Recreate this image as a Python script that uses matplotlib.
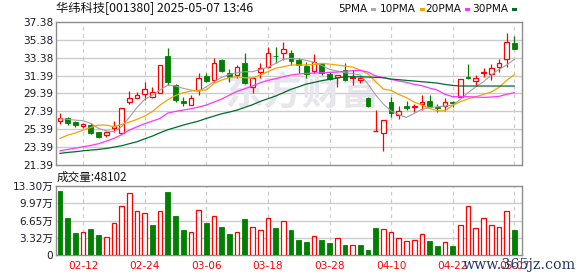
import matplotlib
matplotlib.use("Agg")
import matplotlib.pyplot as plt
from matplotlib.patches import Rectangle
import numpy as np

# trading days shown (MM-DD)
dates = ["02-07", "02-10", "02-11", "02-12", "02-13", "02-14", "02-17", "02-18", "02-19", "02-20",
         "02-21", "02-24", "02-25", "02-26", "02-27", "02-28", "03-03", "03-04", "03-05", "03-06",
         "03-07", "03-10", "03-11", "03-12", "03-13", "03-14", "03-17", "03-18", "03-19", "03-20",
         "03-21", "03-24", "03-25", "03-26", "03-27", "03-28", "03-31", "04-01", "04-02", "04-03",
         "04-07", "04-08", "04-09", "04-10", "04-11", "04-14", "04-15", "04-16", "04-17", "04-18",
         "04-21", "04-22", "04-23", "04-24", "04-25", "04-28", "04-29", "04-30", "05-06", "05-07"]

opens = [26.34, 26.60, 26.16, 25.78, 25.85, 25.04, 24.74, 25.55, 25.00, 28.46,
         28.84, 29.29, 29.02, 29.40, 33.58, 30.33, 28.57, 28.09, 29.77, 31.34,
         30.89, 33.13, 31.64, 31.45, 32.76, 30.14, 31.82, 32.31, 33.60, 33.95,
         33.88, 33.13, 32.46, 31.93, 32.76, 31.56, 31.19, 32.01, 31.08, 30.89,
         28.84, 25.18, 25.00, 28.46, 26.94, 27.98, 27.85, 28.24, 28.54, 27.90,
         28.01, 28.46, 29.02, 31.23, 30.81, 31.71, 31.56, 32.31, 33.21, 35.00]
highs = [27.20, 26.72, 26.34, 26.04, 26.04, 25.11, 25.15, 26.34, 27.72, 29.69,
         29.58, 30.70, 30.14, 32.57, 34.44, 30.44, 29.02, 29.21, 31.71, 31.64,
         33.32, 33.21, 32.09, 32.57, 33.94, 31.26, 32.76, 34.55, 34.62, 35.18,
         34.25, 33.32, 32.94, 33.80, 32.83, 31.82, 31.45, 32.76, 32.01, 31.26,
         29.02, 27.53, 26.41, 29.02, 27.98, 28.57, 28.20, 29.21, 29.21, 28.20,
         28.84, 28.57, 30.97, 32.68, 31.45, 32.20, 32.65, 33.21, 36.18, 35.81]
lows = [25.97, 25.85, 25.66, 25.55, 24.85, 24.37, 24.55, 25.11, 24.93, 28.20,
        28.84, 28.65, 28.84, 29.40, 30.33, 28.46, 27.98, 28.09, 29.21, 30.70,
        30.70, 31.82, 30.70, 31.08, 30.44, 29.40, 31.08, 32.20, 32.75, 33.13,
        32.57, 31.64, 31.08, 31.64, 31.45, 30.89, 30.14, 30.81, 30.33, 30.52,
        27.90, 25.18, 22.98, 26.78, 26.49, 27.53, 27.34, 27.53, 27.98, 27.34,
        27.42, 27.83, 28.95, 30.97, 30.22, 31.26, 30.89, 31.82, 32.38, 34.33]
closes = [26.60, 26.11, 25.85, 25.93, 24.92, 24.48, 25.04, 25.70, 27.72, 28.91,
          29.17, 29.88, 29.51, 32.57, 30.70, 28.65, 28.35, 28.84, 31.08, 30.81,
          32.76, 31.93, 31.19, 32.31, 30.52, 31.08, 32.20, 33.88, 33.55, 34.33,
          33.05, 32.57, 31.56, 32.94, 31.64, 30.97, 31.45, 30.89, 31.26, 31.08,
          27.98, 25.18, 26.41, 27.16, 27.42, 27.79, 27.98, 28.43, 27.98, 27.80,
          28.39, 28.31, 30.97, 31.08, 31.12, 31.82, 32.20, 32.76, 35.11, 34.33]
prev_close = 26.90  # close of the day before the first candle

# moving averages as shown on the chart
ma5 = [26.56, 26.49, 26.41, 26.34, 26.04, 25.48, 25.22, 25.11, 25.67, 26.71,
       27.83, 28.73, 29.21, 29.77, 30.33, 30.22, 29.96, 29.77, 29.62, 30.14,
       30.70, 31.19, 31.52, 31.71, 31.82, 31.82, 32.08, 32.31, 32.75, 33.20,
       33.31, 33.24, 33.09, 32.87, 32.53, 32.08, 31.90, 31.71, 31.60, 31.45,
       30.44, 29.21, 28.20, 27.42, 27.01, 26.71, 27.16, 27.61, 27.79, 27.91,
       27.98, 28.09, 28.73, 29.47, 30.14, 30.70, 31.45, 32.08, 32.57, 33.20]
ma10 = [24.36, 24.73, 24.97, 25.29, 25.59, 25.85, 25.85, 25.67, 25.93, 26.19,
        26.49, 26.86, 27.38, 28.09, 28.69, 29.17, 29.47, 29.66, 29.73, 29.77,
        30.52, 30.89, 31.15, 31.26, 31.15, 31.11, 31.45, 31.82, 32.20, 32.38,
        32.57, 32.57, 32.57, 32.64, 32.75, 32.68, 32.57, 32.46, 32.34, 32.01,
        31.56, 30.70, 29.88, 29.73, 29.28, 28.91, 28.43, 28.09, 27.72, 27.46,
        27.46, 28.06, 28.47, 28.80, 29.03, 29.28, 29.55, 30.07, 30.85, 31.49]
ma20 = [22.98, 23.13, 23.28, 23.43, 23.58, 23.77, 24.06, 24.36, 24.77, 25.29,
        25.67, 26.00, 26.30, 26.60, 27.20, 27.38, 27.53, 27.68, 27.87, 28.09,
        28.43, 28.76, 29.21, 29.62, 29.92, 30.22, 30.59, 30.85, 31.04, 31.26,
        31.45, 31.56, 31.63, 31.67, 31.71, 31.75, 31.78, 31.86, 31.93, 31.97,
        31.78, 31.34, 31.15, 30.97, 30.78, 30.63, 30.40, 30.26, 29.99, 29.77,
        29.29, 29.03, 29.03, 29.03, 28.99, 28.95, 28.99, 29.06, 29.29, 29.47]
ma30 = [22.69, 22.80, 22.87, 22.98, 23.06, 23.13, 23.24, 23.39, 23.54, 23.77,
        23.99, 24.32, 24.62, 25.00, 25.33, 25.59, 25.85, 26.08, 26.30, 26.60,
        26.86, 27.12, 27.31, 27.53, 27.83, 28.13, 28.50, 28.80, 29.10, 29.47,
        29.85, 30.14, 30.44, 30.63, 30.82, 30.97, 31.11, 31.26, 31.26, 31.26,
        31.23, 31.19, 31.15, 31.00, 30.93, 30.85, 30.78, 30.70, 30.63, 30.55,
        30.40, 30.29, 30.22, 30.22, 30.22, 30.22, 30.22, 30.22, 30.22, 30.22]

# volume in 万 (10k lots)
volumes = [12.40, 7.10, 4.20, 4.52, 5.04, 3.87, 3.49, 6.13, 9.43, 11.94,
           8.52, 8.07, 5.81, 8.52, 12.14, 7.55, 4.84, 4.39, 8.72, 6.13,
           7.55, 5.42, 4.07, 4.39, 6.97, 5.42, 4.78, 7.10, 5.23, 6.52,
           4.84, 2.91, 2.52, 3.68, 2.91, 2.32, 3.23, 1.94, 1.94, 1.94,
           0.97, 5.23, 5.04, 4.45, 3.29, 2.71, 2.91, 4.07, 2.71, 1.74,
           2.52, 1.74, 5.81, 9.43, 5.23, 7.17, 5.81, 5.42, 8.52, 4.84]

price_labels = ["37.38", "35.38", "33.38", "31.39", "29.39", "27.39", "25.39", "23.39", "21.39"]
vol_labels = ["13.30万", "9.97万", "6.65万", "3.32万", "0"]
date_ticks = ["02-12", "02-24", "03-06", "03-18", "03-28", "04-10", "04-22", "05-07"]

RED = "#ff0000"
GREEN = "#008000"
GRID = "#cccccc"
FRAME = "#8e8e8e"
W, H = 578, 276


def px_rect(l, t, r, b):
    return [l / W, 1 - b / H, (r - l) / W, (b - t) / H]


def fx(x):
    return x / W


def fy(y):
    return 1 - y / H


fig = plt.figure(figsize=(W / 100, H / 100), dpi=100)
fig.patch.set_facecolor("white")

ax = fig.add_axes(px_rect(56, 22, 522, 165))
axv = fig.add_axes(px_rect(56, 186, 522, 255), sharex=ax)

n = len(closes)
x = np.arange(n)
tick_idx = [dates.index(d) for d in date_ticks]

for a in (ax, axv):
    for s in a.spines.values():
        s.set_color(FRAME)
        s.set_linewidth(1)
    a.tick_params(length=0, labelsize=7.6, labelcolor="#1a1a2a", pad=2)
    for i in tick_idx:
        a.axvline(i, color=GRID, lw=0.9, ls=(0, (3, 3)), zorder=0)

ax.set_xlim(-0.52, n)
p_lo, p_hi = 21.39, 37.38
ax.set_ylim(p_lo, p_hi)
p_ticks = np.linspace(p_hi, p_lo, len(price_labels))
ax.set_yticks(p_ticks, price_labels)
for yv in p_ticks[1:-1]:
    ax.axhline(yv, color=GRID, lw=1, zorder=0)
ax.tick_params(axis="x", labelbottom=False)

# watermark
ax.text(0.53, 0.5, "东方财富", transform=ax.transAxes, fontsize=28, fontweight="bold",
        color="#e6e6ec", ha="center", va="center", family=["Noto Sans CJK SC"], zorder=0)

# candles
bw = 0.6
for i in range(n):
    o, h, l, c = opens[i], highs[i], lows[i], closes[i]
    up = c >= o
    top, bot = max(o, c), min(o, c)
    if up:
        ax.vlines(i, top, h, color=RED, lw=0.9, zorder=3)
        ax.vlines(i, l, bot, color=RED, lw=0.9, zorder=3)
        if top - bot < 0.05:
            ax.hlines(c, i - bw / 2, i + bw / 2, color=RED, lw=1, zorder=3)
        else:
            ax.bar(i, top - bot, bottom=bot, width=bw, facecolor="white",
                   edgecolor=RED, linewidth=0.9, zorder=3)
    else:
        ax.vlines(i, l, h, color=GREEN, lw=0.9, zorder=3)
        ax.bar(i, max(top - bot, 0.06), bottom=bot, width=bw, facecolor=GREEN,
               edgecolor=GREEN, linewidth=0.6, zorder=3)

ax.plot(x, ma5, color="#a0a0a0", lw=0.8, zorder=4)
ax.plot(x, ma10, color="#f5a300", lw=0.9, zorder=4)
ax.plot(x, ma20, color="#ff33ff", lw=0.9, zorder=4)
ax.plot(x, ma30, color="#006b2e", lw=0.9, zorder=4)

# volume
v_hi = 13.30
axv.set_ylim(0, v_hi)
v_ticks = np.linspace(v_hi, 0, len(vol_labels))
axv.set_yticks(v_ticks, vol_labels, family=["DejaVu Sans", "Noto Sans CJK SC"])
for yv in v_ticks[1:-1]:
    axv.axhline(yv, color=GRID, lw=1, zorder=0)
prev = [prev_close] + closes[:-1]
for i in range(n):
    if closes[i] >= prev[i]:
        axv.bar(i, volumes[i], width=bw, facecolor="white", edgecolor=RED, linewidth=0.9, zorder=3)
    else:
        axv.bar(i, volumes[i], width=bw, facecolor=GREEN, edgecolor=GREEN, linewidth=0.6, zorder=3)
axv.set_xticks(tick_idx, date_ticks)
axv.tick_params(axis="x", labelcolor=RED, pad=4)

# header texts
fig.text(fx(56), fy(8.5), "华纬科技[001380] 2025-05-07 13:46", fontsize=8.8, ha="left", va="center",
         family=["Noto Sans CJK SC"], color="#111111")
legend = [("5PMA", "#aaaaaa", 338), ("10PMA", "#f5a300", 380), ("20PMA", "#ff33ff", 425), ("30PMA", "#006b2e", 472)]
for lab, col, lx in legend:
    t = fig.text(fx(lx), fy(9), lab, fontsize=7.6, ha="left", va="center", color="#111111")
    fig.canvas.draw()
    bb = t.get_window_extent()
    fig.add_artist(Rectangle((fx(bb.x1 + 4), fy(11)), 5 / W, 3.5 / H, transform=fig.transFigure,
                             facecolor=col, edgecolor="none"))

fig.text(fx(57), fy(177), "成交量:48102", fontsize=8.4, ha="left", va="center",
         family=["Noto Sans CJK SC"], color="#111111")

# site watermark drawn over the last date label, as in the source image
fig.text(fx(576), fy(265), "www.365jz.com", fontsize=10.2, ha="right", va="center",
         color="#22386a", family=["DejaVu Serif"])

fig.savefig("out.png", dpi=100)
